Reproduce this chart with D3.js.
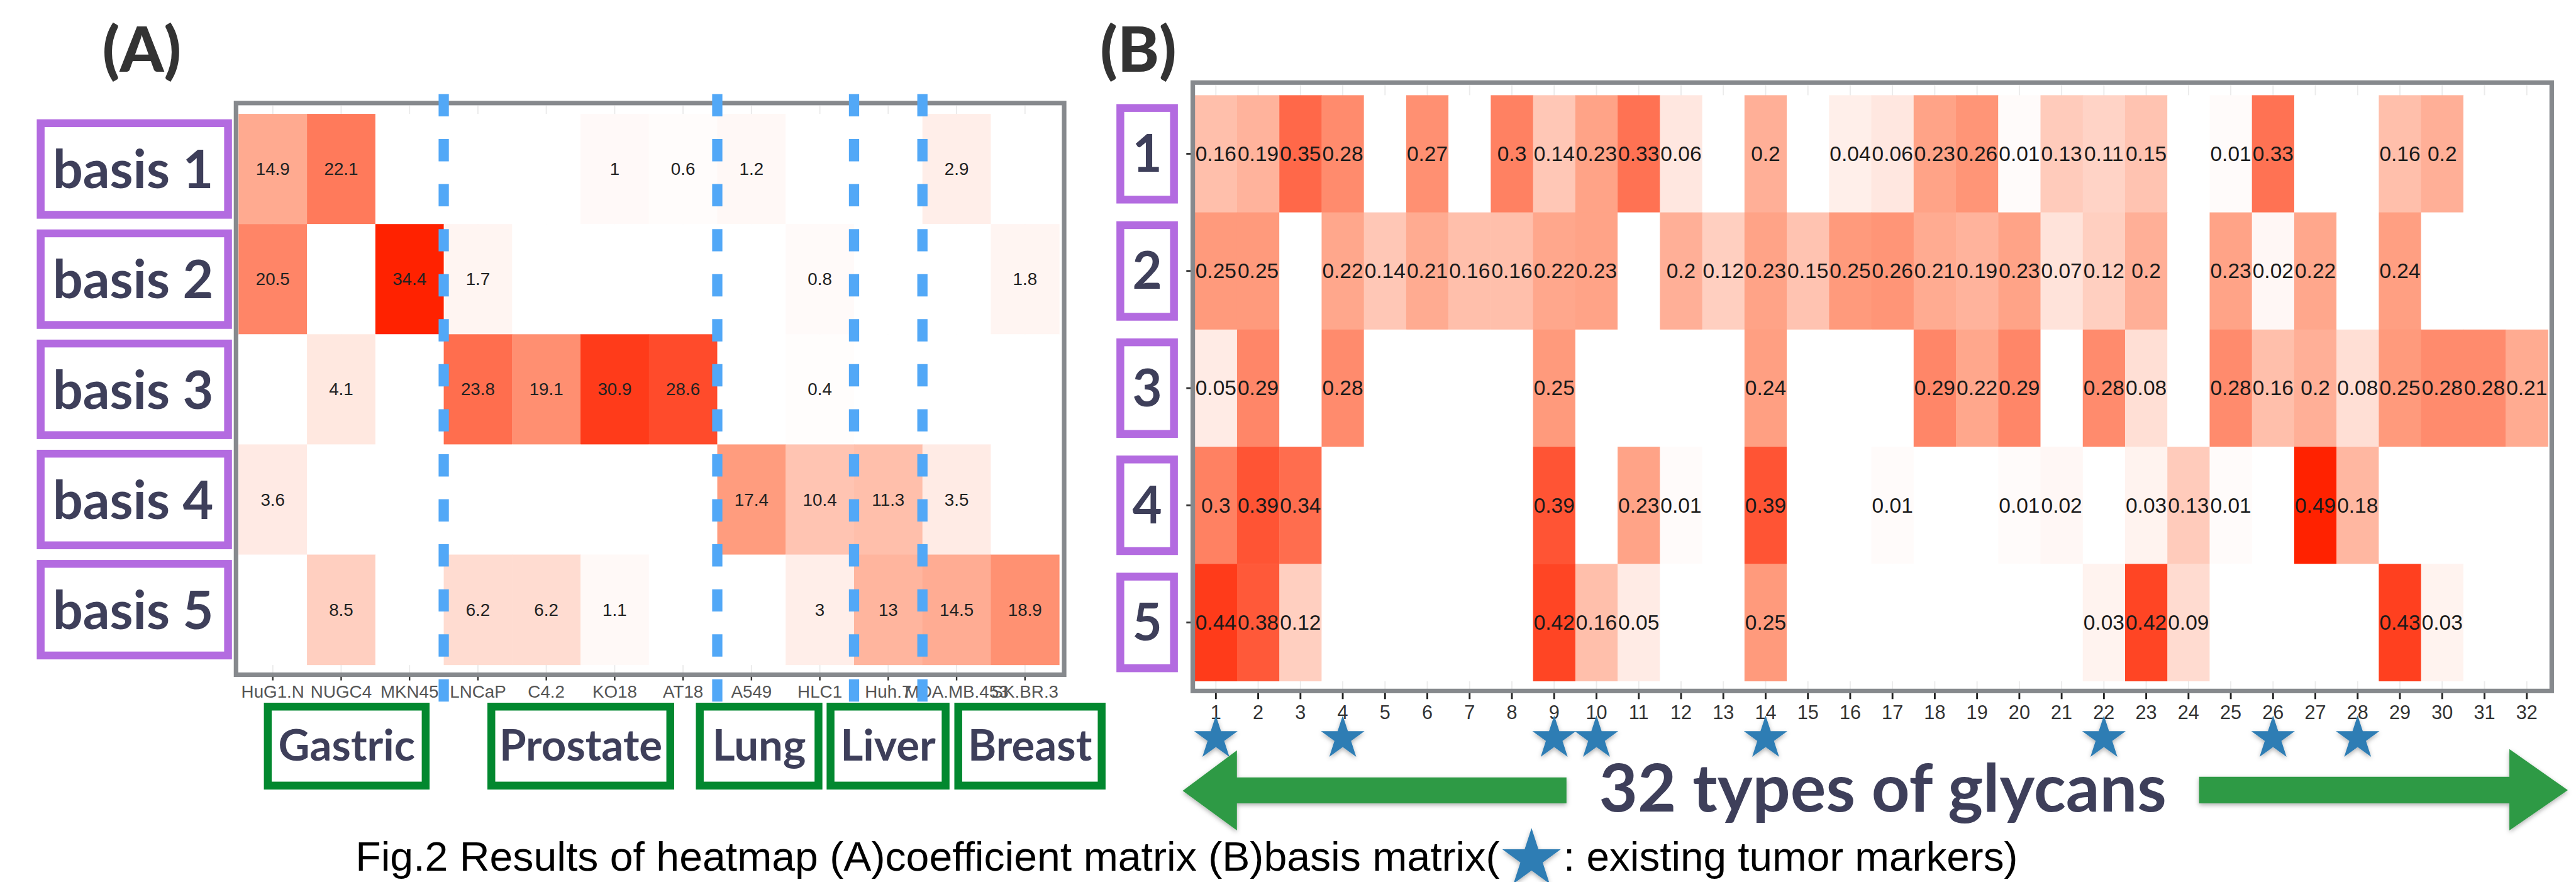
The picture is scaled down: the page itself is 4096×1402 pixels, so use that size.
<!DOCTYPE html>
<html>
<head>
<meta charset="utf-8">
<script src="https://cdn.jsdelivr.net/npm/d3@7"></script>
<style>
  body { margin: 0; background: #fff; }
  svg { display: block; }
</style>
</head>
<body>
<div id="chart"></div>
<script>
// ---- data ----
const cellLines = ["HuG1.N", "NUGC4", "MKN45", "LNCaP", "C4.2", "KO18", "AT18", "A549", "HLC1", "Huh.7", "MDA.MB.453", "SK.BR.3"];
const basisNames = ["basis 1", "basis 2", "basis 3", "basis 4", "basis 5"];
const basisNums = ["1", "2", "3", "4", "5"];
const coefBasis1 = [14.9, 22.1, null, null, null, 1, 0.6, 1.2, null, null, 2.9, null];
const coefBasis2 = [20.5, null, 34.4, 1.7, null, null, null, null, 0.8, null, null, 1.8];
const coefBasis3 = [null, 4.1, null, 23.8, 19.1, 30.9, 28.6, null, 0.4, null, null, null];
const coefBasis4 = [3.6, null, null, null, null, null, null, 17.4, 10.4, 11.3, 3.5, null];
const coefBasis5 = [null, 8.5, null, 6.2, 6.2, 1.1, null, null, 3, 13, 14.5, 18.9];
const coefRows = [coefBasis1, coefBasis2, coefBasis3, coefBasis4, coefBasis5];

const glycans = ["1","2","3","4","5","6","7","8","9","10","11","12","13","14","15","16",
                 "17","18","19","20","21","22","23","24","25","26","27","28","29","30","31","32"];
const basis1 = [0.16,0.19,0.35,0.28,null,0.27,null,0.3,0.14,0.23,0.33,0.06,null,0.2,null,0.04,
                0.06,0.23,0.26,0.01,0.13,0.11,0.15,null,0.01,0.33,null,null,0.16,0.2,null,null];
const basis2 = [0.25,0.25,null,0.22,0.14,0.21,0.16,0.16,0.22,0.23,null,0.2,0.12,0.23,0.15,0.25,
                0.26,0.21,0.19,0.23,0.07,0.12,0.2,null,0.23,0.02,0.22,null,0.24,null,null,null];
const basis3 = [0.05,0.29,null,0.28,null,null,null,null,0.25,null,null,null,null,0.24,null,null,
                null,0.29,0.22,0.29,null,0.28,0.08,null,0.28,0.16,0.2,0.08,0.25,0.28,0.28,0.21];
const basis4 = [0.3,0.39,0.34,null,null,null,null,null,0.39,null,0.23,0.01,null,0.39,null,null,
                0.01,null,null,0.01,0.02,null,0.03,0.13,0.01,null,0.49,0.18,null,null,null,null];
const basis5 = [0.44,0.38,0.12,null,null,null,null,null,0.42,0.16,0.05,null,null,0.25,null,null,
                null,null,null,null,null,0.03,0.42,0.09,null,null,null,null,0.43,0.03,null,null];
const basisRows = [basis1, basis2, basis3, basis4, basis5];

const markerGlycans = ["1", "4", "9", "10", "14", "22", "26", "28"];
const cancerTypes = ["Gastric", "Prostate", "Lung", "Liver", "Breast"];
const groupStarts = ["LNCaP", "A549", "Huh.7", "MDA.MB.453"];

const captionLeft = "Fig.2 Results of heatmap (A)coefficient matrix (B)basis matrix(";
const captionRight = ": existing tumor markers)";

// ---- layout (reference pixels, scaled at the end) ----
const S = 0.958;
const W = 4096, H = 1402;
const slate = "#3e3f5a", purple = "#b36be0", green = "#02882f";
const dashBlue = "#52a8f7", starBlue = "#2e7db4", frameGray = "#86898d";
const heatColors = ["#ffffff", "#ff9d7f", "#ff2200"];
const cancerBoxes = [[438, 713], [809, 1119], [1155, 1365], [1372, 1576], [1584, 1835]];

const svg = d3.select("#chart").append("svg")
  .attr("width", W)
  .attr("height", H);

const defs = svg.append("defs");
const shadow = defs.append("filter").attr("id", "shadow")
  .attr("x", "-20%").attr("y", "-30%").attr("width", "140%").attr("height", "160%");
shadow.append("feDropShadow")
  .attr("dx", 0).attr("dy", 3).attr("stdDeviation", 4)
  .attr("flood-color", "#000").attr("flood-opacity", 0.3);

const root = svg.append("g").attr("transform", "scale(" + S + ")");

// ================= Panel A =================
const ax = d3.scaleBand().domain(cellLines).range([396, 1758]);
const ay = d3.scaleBand().domain(basisNames).range([189, 1103]);
const maxA = d3.max(coefRows.flat());
const colorA = d3.scaleLinear()
  .domain([0, maxA / 2, maxA])
  .range(heatColors);

root.append("text")
  .attr("x", 170).attr("y", 119)
  .style("font-family", "Lato, sans-serif")
  .style("font-weight", 900)
  .style("font-size", "104px")
  .attr("fill", "#333")
  .text("(A)");

const gA = root.append("g");

gA.selectAll(".gridA")
  .data(cellLines)
  .enter().append("line")
  .attr("x1", d => ax(d) + ax.bandwidth() / 2)
  .attr("x2", d => ax(d) + ax.bandwidth() / 2)
  .attr("y1", 175).attr("y2", 1116)
  .attr("stroke", "#ebebeb")
  .attr("stroke-width", 2);

coefRows.forEach((row, r) => {
  const g = gA.append("g");
  g.selectAll("rect")
    .data(row)
    .enter().append("rect")
    .attr("x", (d, i) => ax(cellLines[i]))
    .attr("y", ay(basisNames[r]))
    .attr("width", ax.bandwidth() + 0.5)
    .attr("height", ay.bandwidth() + 0.5)
    .attr("fill", d => d == null ? "#ffffff" : colorA(d));
  g.selectAll("text")
    .data(row.map((d, i) => ({ v: d, i: i })).filter(d => d.v != null))
    .enter().append("text")
    .attr("x", d => ax(cellLines[d.i]) + ax.bandwidth() / 2)
    .attr("y", ay(basisNames[r]) + ay.bandwidth() / 2 + 10)
    .attr("text-anchor", "middle")
    .style("font-family", "'Liberation Sans', Arial, sans-serif")
    .style("font-size", "29px")
    .attr("fill", "#222")
    .text(d => d.v);
});

// frame
gA.append("rect")
  .attr("x", 391.75).attr("y", 171)
  .attr("width", 1374.5).attr("height", 948.5)
  .attr("fill", "none")
  .attr("stroke", frameGray)
  .attr("stroke-width", 7.5);

// x axis
const axisA = gA.append("g")
  .attr("transform", "translate(0,1123)")
  .call(d3.axisBottom(ax).tickSize(6).tickPadding(8.5));
axisA.select(".domain").remove();
axisA.selectAll(".tick line").attr("stroke", "#333").attr("stroke-width", 2.5);
axisA.selectAll(".tick text")
  .style("font-family", "'Liberation Sans', Arial, sans-serif")
  .style("font-size", "29px")
  .attr("fill", "#555");

// group separators
gA.selectAll(".sep")
  .data(groupStarts)
  .enter().append("line")
  .attr("x1", d => ax(d))
  .attr("x2", d => ax(d))
  .attr("y1", 156).attr("y2", 1168)
  .attr("stroke", dashBlue)
  .attr("stroke-width", 17)
  .attr("stroke-dasharray", "37 37.7");

// basis labels
const basisA = gA.selectAll(".basisA")
  .data(basisNames)
  .enter().append("g");
basisA.append("rect")
  .attr("x", 67.5)
  .attr("y", d => ay(d) + ay.bandwidth() / 2 - 76)
  .attr("width", 311)
  .attr("height", 152)
  .attr("fill", "#fff")
  .attr("stroke", purple)
  .attr("stroke-width", 13);
basisA.append("text")
  .attr("x", 221)
  .attr("y", d => ay(d) + ay.bandwidth() / 2 + 32)
  .attr("text-anchor", "middle")
  .style("font-family", "Lato, sans-serif")
  .style("font-weight", 700)
  .style("font-size", "88px")
  .attr("fill", slate)
  .text(d => d);

// cancer type boxes
const cancerG = gA.selectAll(".cancer")
  .data(cancerTypes)
  .enter().append("g");
cancerG.append("rect")
  .attr("x", (d, i) => cancerBoxes[i][0] + 6.5)
  .attr("y", 1172.5)
  .attr("width", (d, i) => cancerBoxes[i][1] - cancerBoxes[i][0] - 13)
  .attr("height", 131)
  .attr("fill", "#fff")
  .attr("stroke", green)
  .attr("stroke-width", 13);
cancerG.append("text")
  .attr("x", (d, i) => (cancerBoxes[i][0] + cancerBoxes[i][1]) / 2)
  .attr("y", 1262)
  .attr("text-anchor", "middle")
  .style("font-family", "Lato, sans-serif")
  .style("font-weight", 700)
  .style("font-size", "72px")
  .attr("fill", slate)
  .text(d => d);

// ================= Panel B =================
const bx = d3.scaleBand().domain(glycans).range([1983, 4229]);
const by = d3.scaleBand().domain(basisNums).range([158, 1130]);
const maxB = d3.max(basisRows.flat());
const colorB = d3.scaleLinear()
  .domain([0, maxB / 2, maxB])
  .range(heatColors);

root.append("text")
  .attr("x", 1826).attr("y", 119)
  .style("font-family", "Lato, sans-serif")
  .style("font-weight", 900)
  .style("font-size", "104px")
  .attr("fill", "#333")
  .text("(B)");

const gB = root.append("g");

gB.selectAll(".gridB")
  .data(glycans)
  .enter().append("line")
  .attr("x1", d => bx(d) + bx.bandwidth() / 2)
  .attr("x2", d => bx(d) + bx.bandwidth() / 2)
  .attr("y1", 141).attr("y2", 1143)
  .attr("stroke", "#ebebeb")
  .attr("stroke-width", 2);

basisRows.forEach((row, r) => {
  const g = gB.append("g");
  g.selectAll("rect")
    .data(row)
    .enter().append("rect")
    .attr("x", (d, i) => bx(glycans[i]))
    .attr("y", by(basisNums[r]))
    .attr("width", bx.bandwidth() + 0.5)
    .attr("height", by.bandwidth() + 0.5)
    .attr("fill", d => d == null ? "#ffffff" : colorB(d));
  g.selectAll("text")
    .data(row.map((d, i) => ({ v: d, i: i })).filter(d => d.v != null))
    .enter().append("text")
    .attr("x", d => bx(glycans[d.i]) + bx.bandwidth() / 2)
    .attr("y", by(basisNums[r]) + by.bandwidth() / 2 + 12)
    .attr("text-anchor", "middle")
    .style("font-family", "'Liberation Sans', Arial, sans-serif")
    .style("font-size", "35px")
    .attr("fill", "#1a1a1a")
    .text(d => d.v);
});

gB.append("rect")
  .attr("x", 1979.75).attr("y", 137)
  .attr("width", 2255.5).attr("height", 1009.5)
  .attr("fill", "none")
  .attr("stroke", frameGray)
  .attr("stroke-width", 7.5);

const axisB = gB.append("g")
  .attr("transform", "translate(0,1150)")
  .call(d3.axisBottom(bx).tickSize(10).tickPadding(10.3));
axisB.select(".domain").remove();
axisB.selectAll(".tick line").attr("stroke", "#222").attr("stroke-width", 3);
axisB.selectAll(".tick text")
  .style("font-family", "'Liberation Sans', Arial, sans-serif")
  .style("font-size", "32px")
  .attr("fill", "#333");

const axisBy = gB.append("g")
  .attr("transform", "translate(1976,0)")
  .call(d3.axisLeft(by).tickSize(7).tickFormat(""));
axisBy.select(".domain").remove();
axisBy.selectAll(".tick line").attr("stroke", "#333").attr("stroke-width", 3);

const basisB = gB.selectAll(".basisB")
  .data(basisNums)
  .enter().append("g");
basisB.append("rect")
  .attr("x", 1859.5)
  .attr("y", d => by(d) + by.bandwidth() / 2 - 76)
  .attr("width", 89)
  .attr("height", 152)
  .attr("fill", "#fff")
  .attr("stroke", purple)
  .attr("stroke-width", 13);
basisB.append("text")
  .attr("x", 1904)
  .attr("y", d => by(d) + by.bandwidth() / 2 + 30)
  .attr("text-anchor", "middle")
  .style("font-family", "Lato, sans-serif")
  .style("font-weight", 700)
  .style("font-size", "85px")
  .attr("fill", slate)
  .text(d => d);

// tumor marker stars
const starSize = r => r * r / 0.8908130915292852;
gB.selectAll(".marker")
  .data(markerGlycans)
  .enter().append("path")
  .attr("transform", d => "translate(" + (bx(d) + bx.bandwidth() / 2) + ",1225)")
  .attr("d", d3.symbol().type(d3.symbolStar).size(starSize(38)))
  .attr("fill", starBlue)
  .attr("filter", "url(#shadow)");

// arrows
const arrowL = "M1963,1312 L2053,1245 L2053,1290 L2600,1290 L2600,1333 L2053,1333 L2053,1378 Z";
const arrowR = "M4262,1311 L4165,1243 L4165,1289 L3650,1289 L3650,1333 L4165,1333 L4165,1378 Z";
gB.selectAll(".arrow")
  .data([arrowL, arrowR])
  .enter().append("path")
  .attr("d", d => d)
  .attr("fill", "#2e9a44")
  .attr("filter", "url(#shadow)");

gB.append("text")
  .attr("x", 2654).attr("y", 1347)
  .attr("textLength", 942)
  .attr("lengthAdjust", "spacingAndGlyphs")
  .style("font-family", "Lato, sans-serif")
  .style("font-weight", 700)
  .style("font-size", "110px")
  .attr("fill", slate)
  .text("32 types of glycans");

// ================= caption =================
root.append("text")
  .attr("x", 590).attr("y", 1445)
  .attr("textLength", 1899)
  .attr("lengthAdjust", "spacingAndGlyphs")
  .style("font-family", "'Liberation Sans', Arial, sans-serif")
  .style("font-size", "68px")
  .attr("fill", "#000")
  .text(captionLeft);
root.append("path")
  .attr("transform", "translate(2542,1425)")
  .attr("d", d3.symbol().type(d3.symbolStar).size(starSize(51)))
  .attr("fill", starBlue)
  .attr("filter", "url(#shadow)");
root.append("text")
  .attr("x", 2595).attr("y", 1445)
  .attr("textLength", 754)
  .attr("lengthAdjust", "spacingAndGlyphs")
  .style("font-family", "'Liberation Sans', Arial, sans-serif")
  .style("font-size", "68px")
  .attr("fill", "#000")
  .text(captionRight);
</script>
</body>
</html>
